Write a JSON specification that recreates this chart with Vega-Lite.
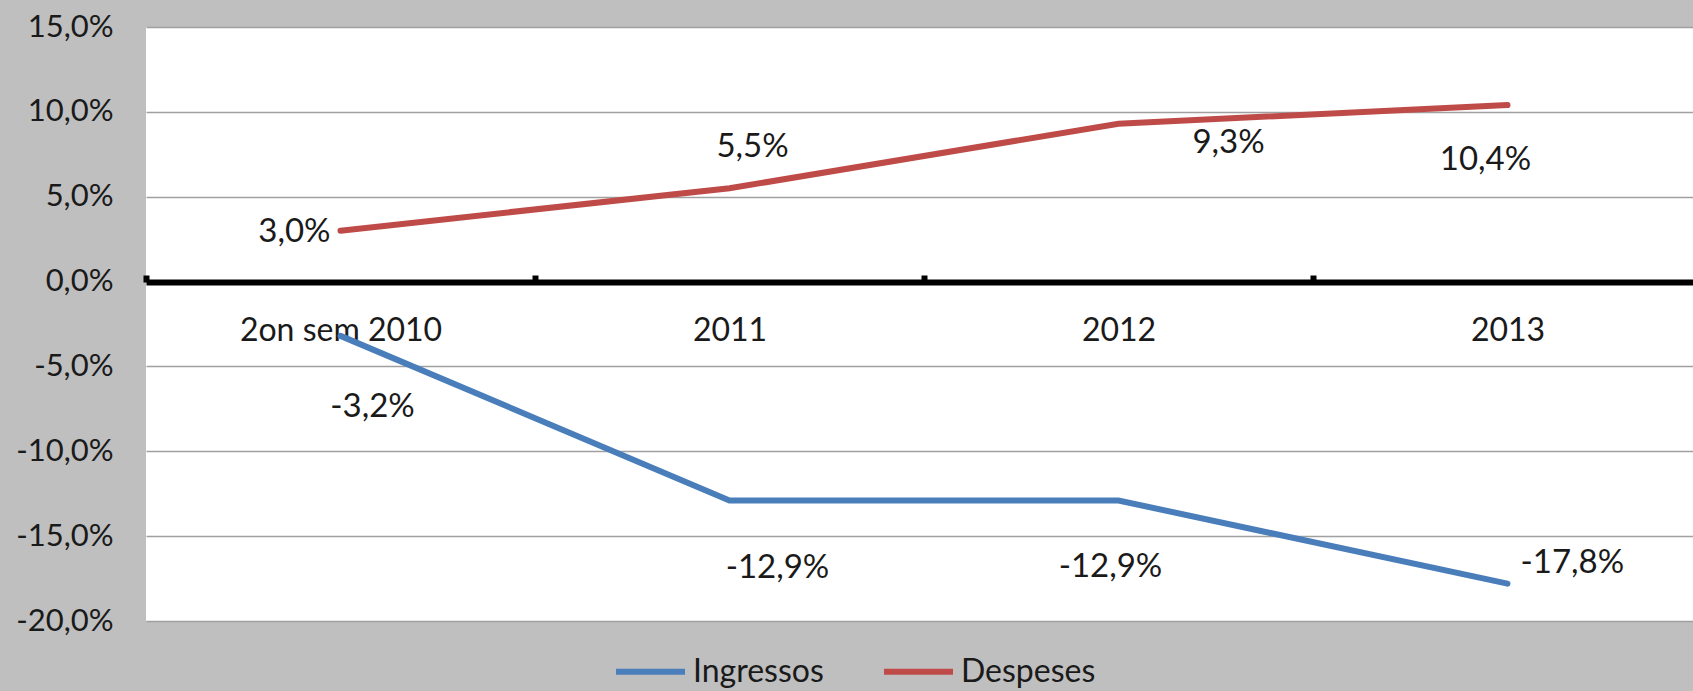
{
  "$schema": "https://vega.github.io/schema/vega-lite/v6.json",
  "width": 1547,
  "height": 594,
  "autosize": {"type": "none"},
  "padding": {"left": 146, "top": 27, "right": 0, "bottom": 70},
  "background": "#bfbfbf",
  "config": {
    "font": "Lato",
    "view": {"fill": "white", "stroke": null},
    "locale": {"number": {"decimal": ",", "thousands": ".", "grouping": [3], "currency": ["", " €"], "minus": "-"}}
  },
  "data": {
    "values": [
      {"periode": "2on sem 2010", "serie": "Ingressos", "v": -0.032},
      {"periode": "2011", "serie": "Ingressos", "v": -0.129},
      {"periode": "2012", "serie": "Ingressos", "v": -0.129},
      {"periode": "2013", "serie": "Ingressos", "v": -0.178},
      {"periode": "2on sem 2010", "serie": "Despeses", "v": 0.030},
      {"periode": "2011", "serie": "Despeses", "v": 0.055},
      {"periode": "2012", "serie": "Despeses", "v": 0.093},
      {"periode": "2013", "serie": "Despeses", "v": 0.104}
    ]
  },
  "encoding": {
    "x": {
      "field": "periode", "type": "nominal", "sort": null,
      "scale": {"type": "band", "domain": ["2on sem 2010", "2011", "2012", "2013"], "paddingInner": 0, "paddingOuter": 0, "range": [0, 1556]},
      "axis": {
        "orient": "top", "offset": -255, "title": null, "grid": false,
        "domainColor": "black", "domainWidth": 6,
        "ticks": true, "tickBand": "extent", "tickColor": "black", "tickWidth": 6, "tickSize": 7,
        "labelPadding": -55, "labelBaseline": "middle", "labelAngle": 0, "labelLimit": 400,
        "labelFontSize": 32, "labelColor": "#1a1a1a", "labelOverlap": false
      }
    },
    "y": {
      "field": "v", "type": "quantitative",
      "scale": {"domain": [-0.2, 0.15], "nice": false, "zero": false},
      "axis": {
        "title": null, "values": [-0.2, -0.15, -0.1, -0.05, 0, 0.05, 0.1, 0.15], "format": ".1%",
        "domain": false, "ticks": false, "labelPadding": 33,
        "labelFontSize": 31, "labelColor": "#1a1a1a",
        "grid": true, "gridColor": "#a0a0a0", "gridWidth": 1.5
      }
    }
  },
  "layer": [
    {
      "mark": {"type": "line", "strokeWidth": 6, "strokeCap": "round"},
      "encoding": {
        "color": {
          "field": "serie", "type": "nominal",
          "scale": {"domain": ["Ingressos", "Despeses"], "range": ["#4a7ebb", "#be4b48"]},
          "legend": {
            "title": null, "orient": "none", "direction": "horizontal",
            "legendX": 467, "legendY": 607,
            "symbolType": "stroke", "symbolSize": 4761, "symbolStrokeWidth": 6,
            "labelFontSize": 32, "labelColor": "#1a1a1a", "labelOffset": 5, "columnPadding": 48
          }
        }
      }
    },
    {"transform": [{"filter": "datum.serie == 'Despeses' && datum.periode == '2on sem 2010'"}], "mark": {"type": "text", "fontSize": 33, "color": "#1a1a1a", "align": "right", "dx": -10, "dy": 1}, "encoding": {"text": {"field": "v", "format": ".1%"}}},
    {"transform": [{"filter": "datum.serie == 'Despeses' && datum.periode == '2011'"}], "mark": {"type": "text", "fontSize": 33, "color": "#1a1a1a", "dx": 23, "dy": -41}, "encoding": {"text": {"field": "v", "format": ".1%"}}},
    {"transform": [{"filter": "datum.serie == 'Despeses' && datum.periode == '2012'"}], "mark": {"type": "text", "fontSize": 33, "color": "#1a1a1a", "dx": 110, "dy": 19}, "encoding": {"text": {"field": "v", "format": ".1%"}}},
    {"transform": [{"filter": "datum.serie == 'Despeses' && datum.periode == '2013'"}], "mark": {"type": "text", "fontSize": 33, "color": "#1a1a1a", "dx": -22, "dy": 55}, "encoding": {"text": {"field": "v", "format": ".1%"}}},
    {"transform": [{"filter": "datum.serie == 'Ingressos' && datum.periode == '2on sem 2010'"}], "mark": {"type": "text", "fontSize": 33, "color": "#1a1a1a", "dx": 32, "dy": 71}, "encoding": {"text": {"field": "v", "format": ".1%"}}},
    {"transform": [{"filter": "datum.serie == 'Ingressos' && datum.periode == '2011'"}], "mark": {"type": "text", "fontSize": 33, "color": "#1a1a1a", "dx": 48, "dy": 67}, "encoding": {"text": {"field": "v", "format": ".1%"}}},
    {"transform": [{"filter": "datum.serie == 'Ingressos' && datum.periode == '2012'"}], "mark": {"type": "text", "fontSize": 33, "color": "#1a1a1a", "dx": -8, "dy": 66}, "encoding": {"text": {"field": "v", "format": ".1%"}}},
    {"transform": [{"filter": "datum.serie == 'Ingressos' && datum.periode == '2013'"}], "mark": {"type": "text", "fontSize": 33, "color": "#1a1a1a", "align": "left", "dx": 13, "dy": -21}, "encoding": {"text": {"field": "v", "format": ".1%"}}}
  ]
}
